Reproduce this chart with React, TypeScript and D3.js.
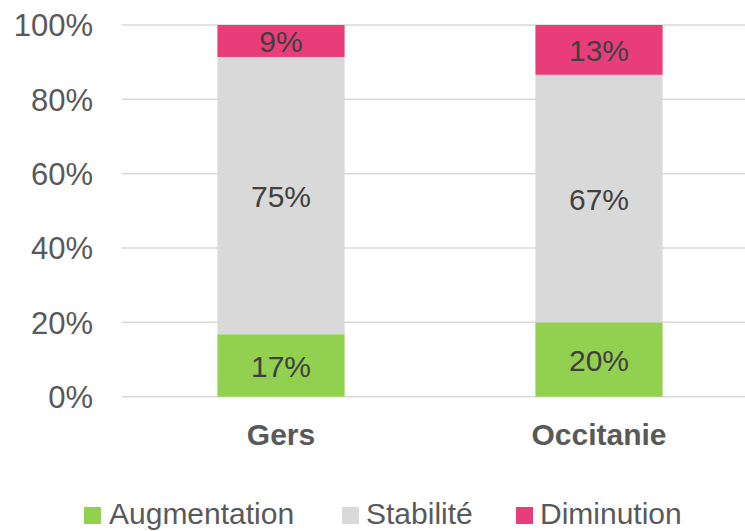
import React from "react";
import * as d3 from "d3";

const categories = ["Gers", "Occitanie"];
const seriesNames = ["Augmentation", "Stabilité", "Diminution"];
const augmentation = [0.168, 0.2];
const stabilite = [0.746, 0.666];
const diminution = [0.086, 0.134];
const yTicks = [0, 0.2, 0.4, 0.6, 0.8, 1.0];
const colors = ["#92D050", "#D9D9D9", "#E93D7A"];

const W = 745;
const H = 531;

export default function App() {
  const x = d3.scaleBand<string>().domain(categories).range([122, 758]).paddingInner(0.6).paddingOuter(0.3);
  const y = d3.scaleLinear().domain([0, 1]).range([396.7, 25]);
  const rows = categories.map((c, i) => ({
    cat: c,
    Augmentation: augmentation[i],
    "Stabilité": stabilite[i],
    Diminution: diminution[i],
  }));
  const stack = d3.stack<any>().keys(seriesNames);
  const series = stack(rows);
  const fmt = d3.format(".0%");
  const font = "'Liberation Sans', Arial, sans-serif";

  const legendItems = [
    { name: "Augmentation", sx: 84, tx: 109 },
    { name: "Stabilité", sx: 342, tx: 366 },
    { name: "Diminution", sx: 516, tx: 540 },
  ];

  return (
    <svg width={W} height={H} style={{ position: "absolute", left: 0, top: 0, background: "#fff" }} fontFamily={font}>
      {yTicks.map((t) => (
        <g key={t}>
          <line x1={122} x2={W} y1={y(t)} y2={y(t)} stroke="#D9D9D9" strokeWidth={1.5} />
          <text x={93} y={y(t)} dy="0.37em" textAnchor="end" fontSize={31} fill="#595959">
            {fmt(t)}
          </text>
        </g>
      ))}
      {series.map((s, si) => (
        <g key={s.key}>
          {s.map((d, i) => (
            <g key={i}>
              <rect
                x={x(categories[i])}
                width={x.bandwidth()}
                y={y(d[1])}
                height={y(d[0]) - y(d[1])}
                fill={colors[si]}
              />
              <text
                x={(x(categories[i]) as number) + x.bandwidth() / 2}
                y={(y(d[0]) + y(d[1])) / 2}
                dy="0.37em"
                textAnchor="middle"
                fontSize={30}
                fill="#404040"
              >
                {fmt(d[1] - d[0])}
              </text>
            </g>
          ))}
        </g>
      ))}
      {categories.map((c) => (
        <text
          key={c}
          x={(x(c) as number) + x.bandwidth() / 2}
          y={445}
          textAnchor="middle"
          fontSize={30}
          fontWeight="bold"
          fill="#595959"
        >
          {c}
        </text>
      ))}
      {legendItems.map((l, i) => (
        <g key={l.name}>
          <rect x={l.sx} y={507} width={17} height={17} fill={colors[i]} />
          <text x={l.tx} y={524} fontSize={30} fill="#595959">
            {l.name}
          </text>
        </g>
      ))}
    </svg>
  );
}
